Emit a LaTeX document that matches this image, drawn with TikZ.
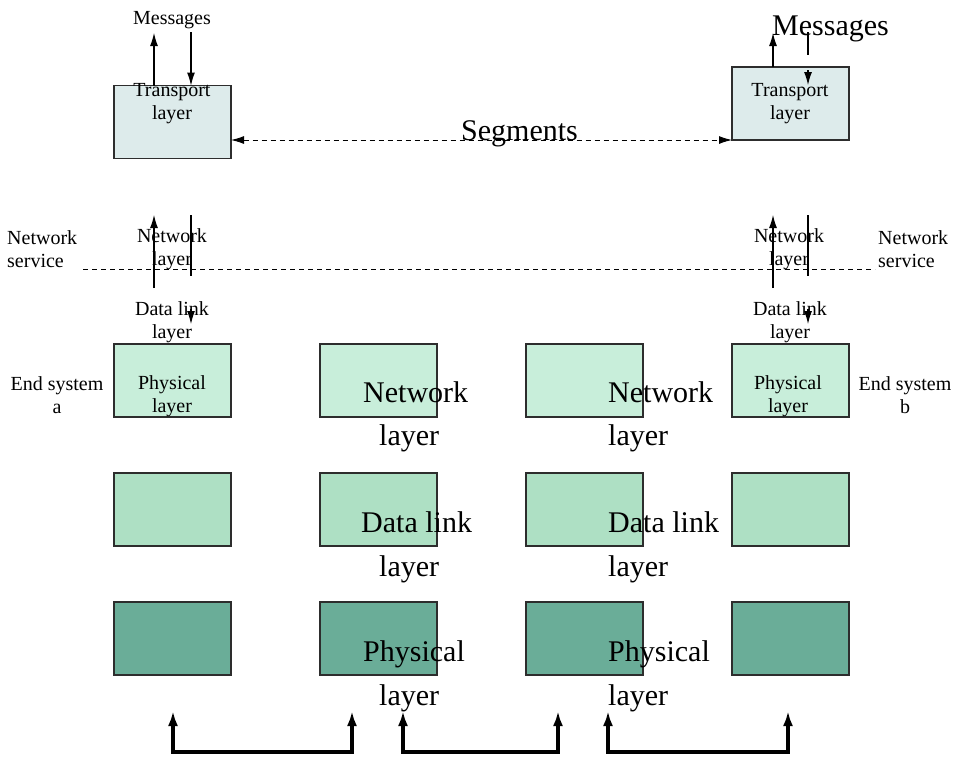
\documentclass[tikz,border=0pt]{standalone}
\usepackage{fontspec}
\setmainfont{Liberation Serif}
\usetikzlibrary{arrows.meta}
\definecolor{tcol}{RGB}{221,235,235}
\definecolor{rowa}{RGB}{200,238,218}
\definecolor{rowb}{RGB}{174,224,196}
\definecolor{rowc}{RGB}{106,173,152}
\definecolor{boxline}{RGB}{45,45,45}
\begin{document}
\begin{tikzpicture}[x=1pt,y=-1pt,
  box/.style={draw=boxline, line width=1.2pt, minimum width=117pt, minimum height=73pt, inner sep=0pt, outer sep=0pt},
  sm/.style={font=\fontsize{20}{23}\selectfont, align=center, inner sep=0pt},
  lg/.style={font=\fontsize{30}{36}\selectfont, inner sep=0pt, anchor=base west},
  arr/.style={line width=1.1pt, -{Latex[length=13pt,width=8pt]}},
  thin/.style={line width=1.1pt},
  dsh/.style={dash pattern=on 5pt off 4pt, line width=1pt},
  bus/.style={line width=3.3pt, line join=miter, {Latex[length=15pt,width=10pt]}-{Latex[length=15pt,width=10pt]}}]
\useasboundingbox (0,0) rectangle (960,756);

% transport boxes
\node[box, fill=tcol] (tl) at (172.5,122) {};
\node[box, fill=tcol] (tr) at (790.5,103.5) {};

% layer boxes
\foreach \c/\x in {1/172.5,2/378.5,3/584.5,4/790.5}{
  \node[box, fill=rowa] (a\c) at (\x,380.5) {};
  \node[box, fill=rowb] (b\c) at (\x,509.5) {};
  \node[box, fill=rowc] (c\c) at (\x,638.5) {};
}

% texts
\node[sm] (tlt) at (172,104) {Transport\\layer};
\node[sm] (trt) at (790,104) {Transport\\layer};
\node[sm, anchor=base] (msgl) at (172,24) {Messages};
\node[lg] (msgr) at (772,35) {Messages};
\node[lg] (seg) at (461,140) {Segments};

\node[sm] (nll) at (172,249) {Network\\layer};
\node[sm] (nlr) at (789,249) {Network\\layer};
\node[sm] (dll) at (172,322) {Data link\\layer};
\node[sm] (dlr) at (790,322) {Data link\\layer};
\node[sm, align=left, anchor=west] (nsl) at (7,249) {Network\\service};
\node[sm, align=left, anchor=west] (nsr) at (878,249) {Network\\service};

\node[sm] (pla) at (172,396) {Physical\\layer};
\node[sm] (plb) at (788,396) {Physical\\layer};
\node[sm] (esa) at (57,395) {End system\\a};
\node[sm] (esb) at (905,395) {End system\\b};

\node[lg] (n2a) at (363,402) {Network};
\node[lg] (n2b) at (379,445) {layer};
\node[lg] (d2a) at (361,532) {Data link};
\node[lg] (d2b) at (379,576) {layer};
\node[lg] (p2a) at (363,661) {Physical};
\node[lg] (p2b) at (379,705) {layer};
\node[lg] (n3a) at (608,402) {Network};
\node[lg] (n3b) at (608,445) {layer};
\node[lg] (d3a) at (608,532) {Data link};
\node[lg] (d3b) at (608,576) {layer};
\node[lg] (p3a) at (608,661) {Physical};
\node[lg] (p3b) at (608,705) {layer};

% segments
\draw[dsh, {Latex[length=13pt,width=8pt]}-{Latex[length=13pt,width=8pt]}] (tl.east |- tr.south) -- (tr.south west);

% messages arrows
\coordinate (mlu) at (154,33);
\coordinate (mld) at (191,32);
\draw[arr] (tl.north -| mlu) -- (mlu);
\draw[arr] (mld) -- (tl.north -| mld);
\coordinate (mru) at (773,33);
\coordinate (mrd) at (808,32);
\coordinate (mrd2) at (808,55);
\coordinate (mrd3) at (808,70);
\coordinate (mrd4) at (808,85);
\draw[arr] (tr.north -| mru) -- (mru);
\draw[thin] (mrd) -- (mrd2);
\draw[arr] (mrd3) -- (mrd4);

% network service line
\coordinate (nsA) at (83,269);
\coordinate (nsB) at (875,269);
\draw[dsh] (nsA) -- (nsB);

% network layer arrows
\foreach \u/\d in {154/191,773/808}{
  \coordinate (u1) at (\u,288);
  \coordinate (u2) at (\u,215);
  \draw[arr] (u1) -- (u2);
  \coordinate (d1) at (\d,215);
  \coordinate (d2) at (\d,276);
  \coordinate (d3) at (\d,309);
  \coordinate (d4) at (\d,324);
  \draw[thin] (d1) -- (d2);
  \draw[arr] (d3) -- (d4);
}

% bottom buses
\foreach \p/\q in {173/352,403/558,608/788}{
  \coordinate (s1) at (\p,711);
  \coordinate (s2) at (\p,752);
  \coordinate (s3) at (\q,752);
  \coordinate (s4) at (\q,711);
  \draw[bus] (s1) -- (s2) -- (s3) -- (s4);
}
\end{tikzpicture}
\end{document}
